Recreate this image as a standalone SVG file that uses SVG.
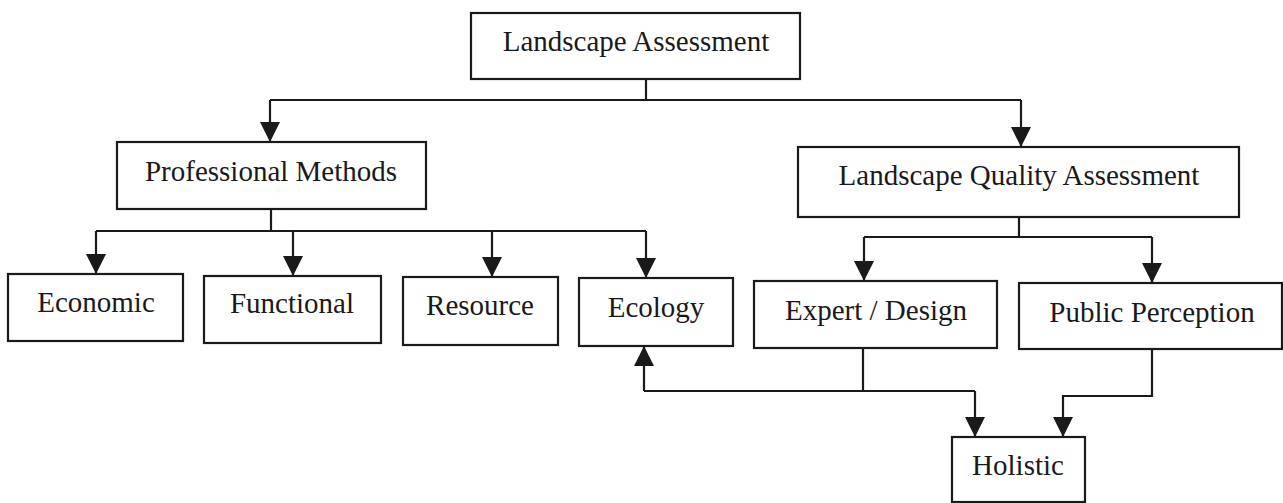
<svg xmlns="http://www.w3.org/2000/svg" width="1283" height="503" viewBox="0 0 1283 503">
  <style>
    .box { fill: #ffffff; stroke: #1a1a1a; stroke-width: 2.2; }
    .label { font-family: "Liberation Serif", "Times New Roman", serif; font-size: 29px; fill: #1a1a1a; text-anchor: middle; }
    .wire { fill: none; stroke: #1a1a1a; stroke-width: 2.2; }
    .arrow { fill: none; stroke: #1a1a1a; stroke-width: 2.2; marker-end: url(#head); }
  </style>
  <defs>
    <marker id="head" viewBox="0 0 20 20" markerWidth="20" markerHeight="20" refX="20" refY="10" orient="auto" markerUnits="userSpaceOnUse">
      <path d="M0,0 L20,10 L0,20 Z" fill="#1a1a1a"/>
    </marker>
  </defs>
  <rect width="1283" height="503" fill="#ffffff"/>

  <g id="connectors">
    <!-- Landscape Assessment to its two branches -->
    <path class="wire" d="M646,79 V100"/>
    <path class="wire" d="M270,100 H1021"/>
    <path class="arrow" d="M270,100 V142"/>
    <path class="arrow" d="M1021,100 V147"/>
    <!-- Professional Methods to the four methods -->
    <path class="wire" d="M271,209 V231"/>
    <path class="wire" d="M96,231 H646"/>
    <path class="arrow" d="M96,231 V274"/>
    <path class="arrow" d="M293,231 V276"/>
    <path class="arrow" d="M492,231 V277"/>
    <path class="arrow" d="M646,231 V278"/>
    <!-- Landscape Quality Assessment to its two approaches -->
    <path class="wire" d="M1019,217 V237"/>
    <path class="wire" d="M864,237 H1152"/>
    <path class="arrow" d="M864,237 V281"/>
    <path class="arrow" d="M1152,237 V283"/>
    <!-- Expert / Design feeding Ecology and Holistic -->
    <path class="wire" d="M863,348 V391"/>
    <path class="wire" d="M644,391 H975"/>
    <path class="arrow" d="M644,391 V346"/>
    <path class="arrow" d="M975,391 V437"/>
    <!-- Public Perception feeding Holistic -->
    <path class="arrow" d="M1152,349 V396 H1063 V437"/>
  </g>

  <g id="landscape-assessment">
    <rect class="box" x="471" y="13" width="329" height="66"/>
    <text class="label" x="636" y="51">Landscape Assessment</text>
  </g>
  <g id="professional-methods">
    <rect class="box" x="117" y="142" width="309" height="67"/>
    <text class="label" x="271" y="181">Professional Methods</text>
  </g>
  <g id="landscape-quality-assessment">
    <rect class="box" x="798" y="147" width="441" height="70"/>
    <text class="label" x="1019" y="185">Landscape Quality Assessment</text>
  </g>
  <g id="economic">
    <rect class="box" x="8" y="274" width="175" height="67"/>
    <text class="label" x="96" y="312">Economic</text>
  </g>
  <g id="functional">
    <rect class="box" x="204" y="276" width="177" height="67"/>
    <text class="label" x="292" y="313">Functional</text>
  </g>
  <g id="resource">
    <rect class="box" x="403" y="277" width="155" height="68"/>
    <text class="label" x="480" y="315">Resource</text>
  </g>
  <g id="ecology">
    <rect class="box" x="579" y="278" width="154" height="68"/>
    <text class="label" x="656" y="317">Ecology</text>
  </g>
  <g id="expert-design">
    <rect class="box" x="754" y="281" width="243" height="67"/>
    <text class="label" x="876" y="320">Expert / Design</text>
  </g>
  <g id="public-perception">
    <rect class="box" x="1019" y="283" width="263" height="66"/>
    <text class="label" x="1152" y="322">Public Perception</text>
  </g>
  <g id="holistic">
    <rect class="box" x="952" y="437" width="133" height="65"/>
    <text class="label" x="1018" y="475">Holistic</text>
  </g>
</svg>
